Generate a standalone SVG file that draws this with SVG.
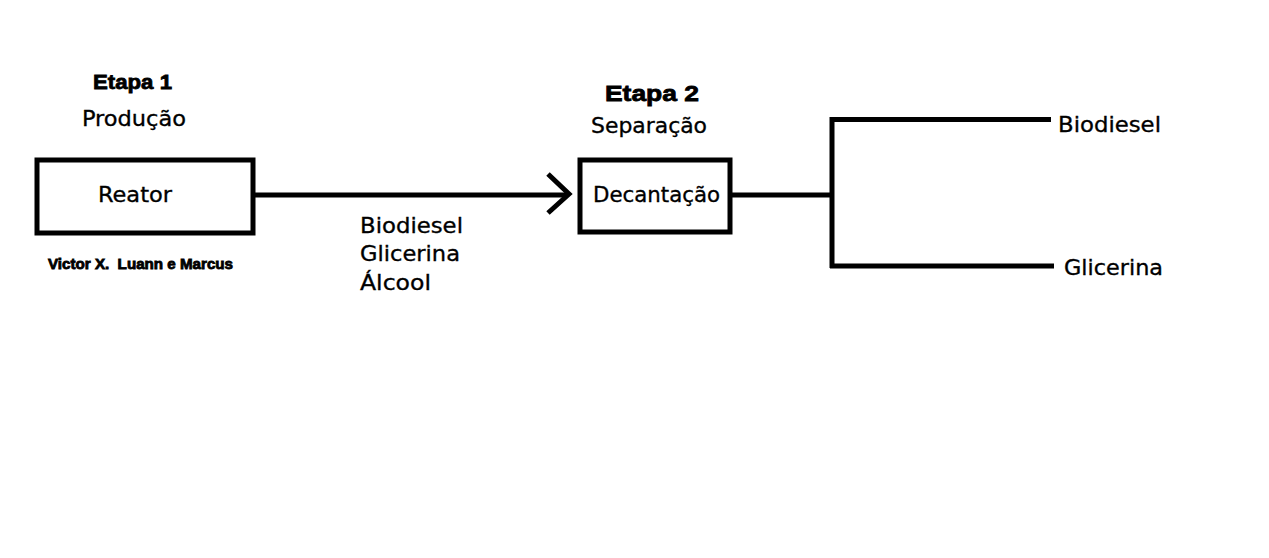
<svg xmlns="http://www.w3.org/2000/svg" width="1269" height="558" viewBox="0 0 1269 558">
<style>
.box{fill:#fff;stroke:#000;stroke-width:5}
.ln{fill:none;stroke:#000;stroke-width:5;stroke-linecap:butt}
.t{font-family:"DejaVu Sans Condensed","DejaVu Sans",sans-serif;font-size:21px;fill:#000;stroke:#000;stroke-width:0.3}
.b{font-family:"Liberation Sans",Arial,sans-serif;font-weight:bold;fill:#000;stroke:#000;stroke-width:0.8}
</style>
<rect width="1269" height="558" fill="#fff"/>
<g id="connectors">
<line class="ln" x1="253" y1="195" x2="568" y2="195"/>
<polyline class="ln" points="548,174 569,194 548,213" stroke-linecap="round" stroke-linejoin="miter"/>
<line class="ln" x1="730" y1="195" x2="832" y2="195"/>
<line class="ln" x1="832" y1="117" x2="832" y2="268"/>
<line class="ln" x1="830" y1="119.5" x2="1051" y2="119.5" stroke-linecap="round"/>
<line class="ln" x1="830" y1="266" x2="1054" y2="266" stroke-linecap="round"/>
</g>
<g id="etapa1">
<text class="b" x="93" y="89" font-size="21" textLength="79" lengthAdjust="spacingAndGlyphs">Etapa 1</text>
<text class="t" x="82" y="126" textLength="104" lengthAdjust="spacingAndGlyphs">Produção</text>
</g>
<g id="reator">
<rect class="box" x="37" y="160" width="216" height="73"/>
<text class="t" x="98" y="202" textLength="74" lengthAdjust="spacingAndGlyphs">Reator</text>
</g>
<g id="autores">
<text class="b" x="48" y="269" font-size="14" stroke-width="0.5" textLength="185" lengthAdjust="spacingAndGlyphs">Victor X.&#160; Luann e Marcus</text>
</g>
<g id="mistura">
<text class="t" x="360" y="233" textLength="103" lengthAdjust="spacingAndGlyphs">Biodiesel</text>
<text class="t" x="360" y="261" textLength="100" lengthAdjust="spacingAndGlyphs">Glicerina</text>
<text class="t" x="360" y="290" textLength="71" lengthAdjust="spacingAndGlyphs">Álcool</text>
</g>
<g id="etapa2">
<text class="b" x="605" y="101" font-size="22.5" textLength="94" lengthAdjust="spacingAndGlyphs">Etapa 2</text>
<text class="t" x="591" y="133" textLength="116" lengthAdjust="spacingAndGlyphs">Separação</text>
</g>
<g id="decantacao">
<rect class="box" x="580" y="160" width="150" height="72"/>
<text class="t" x="593" y="202" textLength="127" lengthAdjust="spacingAndGlyphs">Decantação</text>
</g>
<g id="biodiesel">
<text class="t" x="1058" y="132" textLength="103" lengthAdjust="spacingAndGlyphs">Biodiesel</text>
</g>
<g id="glicerina">
<text class="t" x="1064" y="275" textLength="99" lengthAdjust="spacingAndGlyphs">Glicerina</text>
</g>
</svg>
